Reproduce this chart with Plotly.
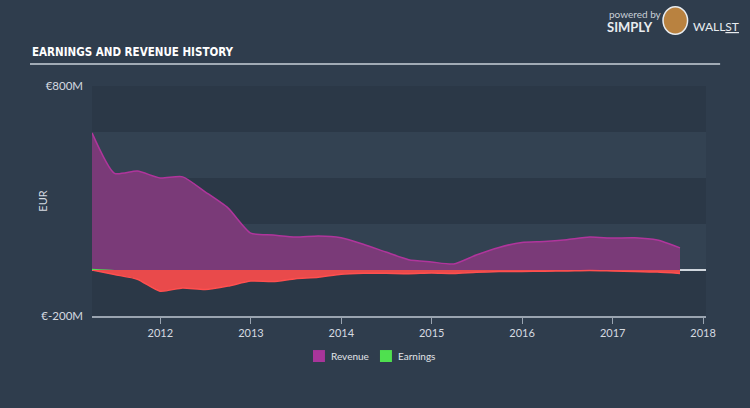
import numpy as np
import plotly.graph_objects as go

dates = ["2011-03-31", "2011-06-30", "2011-09-30", "2011-12-31",
         "2012-03-31", "2012-06-30", "2012-09-30", "2012-12-31",
         "2013-03-31", "2013-06-30", "2013-09-30", "2013-12-31",
         "2014-03-31", "2014-06-30", "2014-09-30", "2014-12-31",
         "2015-03-31", "2015-06-30", "2015-09-30", "2015-12-31",
         "2016-03-31", "2016-06-30", "2016-09-30", "2016-12-31",
         "2017-03-31", "2017-06-30", "2017-09-30"]
revenue = [596, 420, 430, 400, 405, 340, 270, 160, 152, 143, 148, 140,
           112, 78, 45, 35, 26, 65, 98, 120, 124, 132, 143, 139, 140, 130, 96]
earnings = [5, -20, -40, -92, -78, -85, -70, -48, -50, -38, -32, -18,
            -14, -14, -16, -13, -15, -10, -7, -6, -5, -4, -2, -4, -6, -9, -15]

y_ticks = [800, -200]
y_tick_labels = ["€800M", "€-200M"]
band_edges = [800, 600, 400, 200, 0, -200]
legend_names = ["Revenue", "Earnings"]
legend_colors = ["#a8359a", "#4fe04f"]

earn = np.array(earnings, dtype=float)
earn_pos = np.maximum(earn, 0)
earn_neg = np.minimum(earn, 0)

BG = "#2f3d4d"
fig = go.Figure()

fig.add_trace(go.Scatter(x=dates, y=revenue, mode="lines", name="Revenue",
                         line=dict(color="#b0359c", width=1.5, shape="spline", smoothing=0.6),
                         fill="tozeroy", fillcolor="#7a3a78", showlegend=False))
fig.add_trace(go.Scatter(x=dates, y=earn_neg, mode="lines", name="Earnings loss",
                         line=dict(color="#ff4f4f", width=1.5, shape="spline", smoothing=0.6),
                         fill="tozeroy", fillcolor="#e94a4b", showlegend=False))
fig.add_trace(go.Scatter(x=dates, y=earn_pos, mode="lines", name="Earnings",
                         line=dict(color="#4fe04f", width=0, shape="spline", smoothing=0.6),
                         fill="tozeroy", fillcolor="#4fe04f", showlegend=False))

shapes = []
for i in range(len(band_edges) - 1):
    if i % 2 == 0:
        shapes.append(dict(type="rect", xref="paper", x0=0, x1=1, yref="y",
                           y0=band_edges[i + 1], y1=band_edges[i],
                           fillcolor="#2b3847", line_width=0, layer="below"))
shapes.append(dict(type="line", xref="paper", yref="paper", x0=-0.101, x1=1.023,
                   y0=1.0957, y1=1.0957, line=dict(color="#c9d0d8", width=1.5)))
# bull logo approximation
shapes.append(dict(type="circle", xref="paper", yref="paper", x0=0.930, x1=0.970,
                   y0=1.225, y1=1.345, fillcolor="#b98240", line=dict(color="#e8ecf0", width=1.5)))

annotations = [
    dict(text="<b>EARNINGS AND REVENUE HISTORY</b>", xref="paper", yref="paper",
         x=-0.101, y=1.148, xanchor="left", yanchor="middle", showarrow=False,
         font=dict(family="DejaVu Sans Condensed, Liberation Sans Narrow, sans-serif", size=11.5, color="#ffffff")),
    dict(text="EUR", xref="paper", yref="paper", x=-0.082, y=0.5,
         xanchor="center", yanchor="middle", showarrow=False, textangle=-90,
         font=dict(family="Lato, sans-serif", size=11, color="#d5dae0")),
    dict(text="powered by", xref="paper", yref="paper", x=0.838, y=1.313,
         xanchor="left", yanchor="middle", showarrow=False,
         font=dict(family="Lato, sans-serif", size=10, color="#c9d0d8")),
    dict(text="<b>SIMPLY</b>", xref="paper", yref="paper", x=0.836, y=1.257,
         xanchor="left", yanchor="middle", showarrow=False,
         font=dict(family="Lato, sans-serif", size=13, color="#e8ecf0")),
    dict(text="WALL<u>ST</u>", xref="paper", yref="paper", x=0.975, y=1.257,
         xanchor="left", yanchor="middle", showarrow=False,
         font=dict(family="Lato, sans-serif", size=12, color="#e8ecf0")),
]

# manual legend
legend_x = [0.3599, 0.469]
for name, color, lx in zip(legend_names, legend_colors, legend_x):
    shapes.append(dict(type="rect", xref="paper", yref="paper", x0=lx, x1=lx + 0.0195,
                       y0=-0.2, y1=-0.148, fillcolor=color, line_width=0))
    annotations.append(dict(text=name, xref="paper", yref="paper", x=lx + 0.026, y=-0.174,
                            xanchor="left", yanchor="middle", showarrow=False,
                            font=dict(family="Lato, sans-serif", size=10, color="#e0e4e8")))

fig.update_layout(
    width=750, height=408,
    margin=dict(l=92, r=44, t=86, b=92),
    paper_bgcolor=BG, plot_bgcolor="#334252",
    shapes=shapes, annotations=annotations,
    showlegend=False,
    xaxis=dict(type="date", range=["2011-03-31", "2018-01-13"],
               dtick="M12", tick0="2012-01-01", tickformat="%Y",
               showgrid=False, zeroline=False, showline=True,
               linecolor="#9aa4b0", linewidth=1.5,
               ticks="outside", ticklen=6, tickcolor="#9aa4b0",
               tickfont=dict(family="Lato, sans-serif", size=11, color="#d5dae0")),
    yaxis=dict(range=[-200, 800], tickvals=y_ticks, ticktext=y_tick_labels,
               showgrid=False, zeroline=True, zerolinecolor="#d0d6dd", zerolinewidth=1.5,
               showline=False, ticks="", ticklabelstandoff=8,
               tickfont=dict(family="Lato, sans-serif", size=11.5, color="#d5dae0")),
    font=dict(family="Lato, sans-serif", color="#d5dae0"),
)

fig.write_html("out.html", config={"displayModeBar": False},
               post_script="document.body.style.margin='0';")
